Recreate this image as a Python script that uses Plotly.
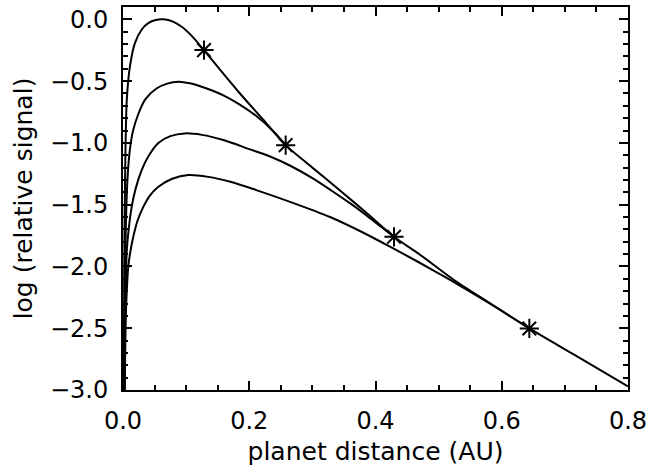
import plotly.graph_objects as go

# Curve 1 (top / envelope)
x1 = [0.001, 0.002, 0.0035, 0.006, 0.011, 0.019, 0.03, 0.04, 0.052, 0.064, 0.08, 0.093, 0.11,
      0.128, 0.155, 0.1853, 0.22, 0.2577, 0.30, 0.3438, 0.3865, 0.4293, 0.4705, 0.5286, 0.585,
      0.6437, 0.72, 0.8]
y1 = [-3.3, -2.0, -1.2, -0.65, -0.38, -0.19, -0.08, -0.03, -0.005, 0.0, -0.02, -0.06, -0.14,
      -0.249, -0.415, -0.60, -0.80, -1.018, -1.20, -1.385, -1.57, -1.76, -1.905, -2.125, -2.31,
      -2.502, -2.73, -2.97]

# Curve 2
x2 = [0.0015, 0.004, 0.007, 0.011, 0.016, 0.024, 0.035, 0.053, 0.07, 0.088, 0.106, 0.1326,
      0.159, 0.185, 0.2118, 0.238, 0.2577]
y2 = [-3.3, -1.8, -1.3, -1.05, -0.9, -0.77, -0.65, -0.56, -0.52, -0.505, -0.518, -0.56,
      -0.615, -0.69, -0.785, -0.905, -1.018]

# Curve 3
x3 = [0.0018, 0.0035, 0.0058, 0.009, 0.0137, 0.02, 0.0296, 0.04, 0.056, 0.075, 0.098, 0.125,
      0.159, 0.2, 0.233, 0.265, 0.30, 0.33, 0.36, 0.381, 0.402, 0.4293]
y3 = [-3.3, -2.4, -1.89, -1.7, -1.52, -1.37, -1.22, -1.11, -1.0, -0.945, -0.923, -0.935,
      -0.977, -1.05, -1.11, -1.185, -1.285, -1.385, -1.49, -1.568, -1.652, -1.76]

# Curve 4
x4 = [0.002, 0.004, 0.0058, 0.0084, 0.012, 0.0163, 0.023, 0.032, 0.042, 0.056, 0.078, 0.1035,
      0.135, 0.17, 0.21, 0.2646, 0.328, 0.38, 0.423, 0.47, 0.51, 0.555, 0.60, 0.6437]
y4 = [-3.3, -2.5, -2.22, -2.0, -1.87, -1.76, -1.63, -1.52, -1.43, -1.355, -1.29, -1.26,
      -1.275, -1.315, -1.38, -1.477, -1.60, -1.725, -1.84, -1.97, -2.085, -2.22, -2.36, -2.502]

# Asterisk markers
xm = [0.1283, 0.2577, 0.4293, 0.6437]
ym = [-0.249, -1.018, -1.76, -2.502]

x_ticks = [0.0, 0.2, 0.4, 0.6, 0.8]
y_ticks = [0.0, -0.5, -1.0, -1.5, -2.0, -2.5, -3.0]

fig = go.Figure()
for xs, ys in [(x1, y1), (x2, y2), (x3, y3), (x4, y4)]:
    fig.add_trace(go.Scatter(x=xs, y=ys, mode="lines",
                             line=dict(color="black", width=2, shape="spline", smoothing=0.8),
                             showlegend=False, hoverinfo="skip"))
fig.add_trace(go.Scatter(x=xm, y=ym, mode="markers",
                         marker=dict(symbol="asterisk-open", size=16, color="black",
                                     line=dict(color="black", width=2)),
                         showlegend=False))

tick_font = dict(family="DejaVu Sans", size=24, color="black")
title_font = dict(family="DejaVu Sans", size=25, color="black")
axis_common = dict(showgrid=False, zeroline=False, showline=True, linecolor="black", linewidth=2,
                   mirror="ticks", ticks="inside", ticklen=9, tickwidth=1.5, tickcolor="black",
                   tickfont=tick_font, automargin=False)
fig.update_xaxes(range=[0, 0.8], tickvals=x_ticks, ticktext=[f"{v:.1f}" for v in x_ticks],
                 minor=dict(dtick=0.05, ticks="inside", ticklen=5, tickwidth=1.5, tickcolor="black"),
                 title=dict(text="planet distance (AU)", font=title_font, standoff=9),
                 ticklabelstandoff=8, **axis_common)
fig.update_yaxes(range=[-3.0, 0.1], tickvals=y_ticks,
                 ticktext=[("\u2212" if v < 0 else "") + f"{abs(v):.1f}" for v in y_ticks],
                 minor=dict(dtick=0.1, ticks="inside", ticklen=5, tickwidth=1.5, tickcolor="black"),
                 title=dict(text="log (relative signal)", font=title_font, standoff=10),
                 ticklabelstandoff=8, **axis_common)
fig.update_layout(width=648, height=470, margin=dict(l=123, r=20, t=7, b=80),
                  plot_bgcolor="white", paper_bgcolor="white", font=tick_font)
fig.write_html("out.html", config={"displayModeBar": False},
               post_script="document.body.style.margin='0px';document.body.style.overflow='hidden';")
